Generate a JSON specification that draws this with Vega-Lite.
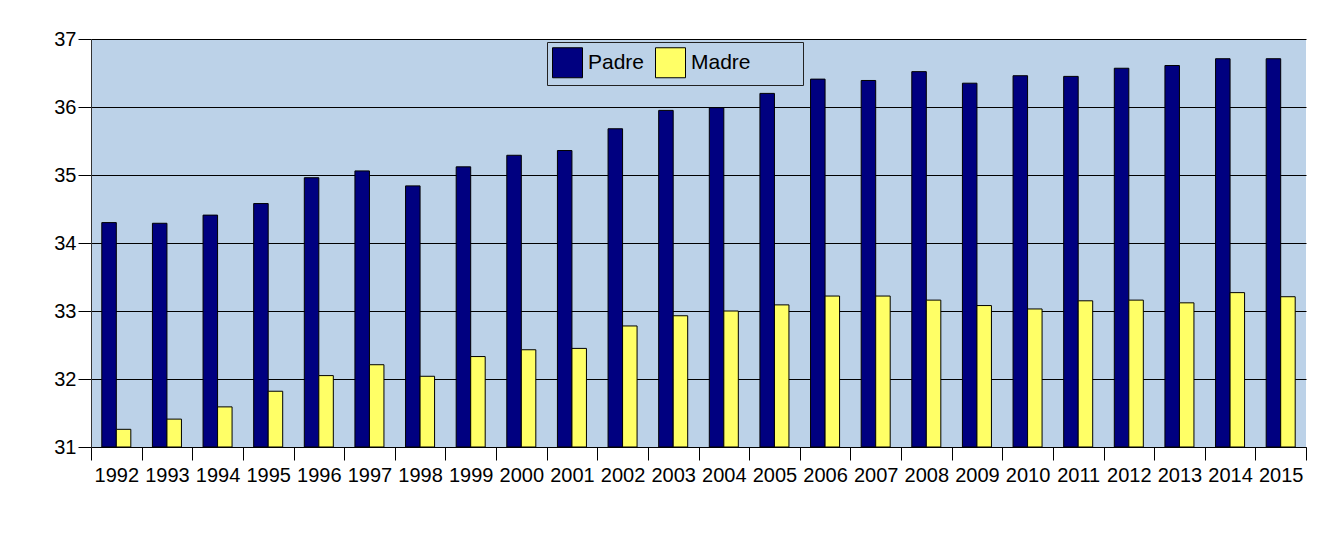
{
  "$schema": "https://vega.github.io/schema/vega-lite/v6.json",
  "autosize": {"type": "none"},
  "padding": {"left": 91, "top": 39, "right": 16, "bottom": 87},
  "width": 1215,
  "height": 408,
  "background": "white",
  "config": {
    "view": {"fill": "#bcd2e8", "stroke": null},
    "font": "Liberation Sans"
  },
  "data": {
    "values": [
      {"year": 1992, "serie": "Padre", "edad": 34.30},
      {"year": 1993, "serie": "Padre", "edad": 34.29},
      {"year": 1994, "serie": "Padre", "edad": 34.41},
      {"year": 1995, "serie": "Padre", "edad": 34.58},
      {"year": 1996, "serie": "Padre", "edad": 34.96},
      {"year": 1997, "serie": "Padre", "edad": 35.06},
      {"year": 1998, "serie": "Padre", "edad": 34.84},
      {"year": 1999, "serie": "Padre", "edad": 35.12},
      {"year": 2000, "serie": "Padre", "edad": 35.29},
      {"year": 2001, "serie": "Padre", "edad": 35.36},
      {"year": 2002, "serie": "Padre", "edad": 35.68},
      {"year": 2003, "serie": "Padre", "edad": 35.95},
      {"year": 2004, "serie": "Padre", "edad": 35.99},
      {"year": 2005, "serie": "Padre", "edad": 36.20},
      {"year": 2006, "serie": "Padre", "edad": 36.41},
      {"year": 2007, "serie": "Padre", "edad": 36.39},
      {"year": 2008, "serie": "Padre", "edad": 36.52},
      {"year": 2009, "serie": "Padre", "edad": 36.35},
      {"year": 2010, "serie": "Padre", "edad": 36.46},
      {"year": 2011, "serie": "Padre", "edad": 36.45},
      {"year": 2012, "serie": "Padre", "edad": 36.57},
      {"year": 2013, "serie": "Padre", "edad": 36.61},
      {"year": 2014, "serie": "Padre", "edad": 36.71},
      {"year": 2015, "serie": "Padre", "edad": 36.71},
      {"year": 1992, "serie": "Madre", "edad": 31.26},
      {"year": 1993, "serie": "Madre", "edad": 31.41},
      {"year": 1994, "serie": "Madre", "edad": 31.59},
      {"year": 1995, "serie": "Madre", "edad": 31.82},
      {"year": 1996, "serie": "Madre", "edad": 32.05},
      {"year": 1997, "serie": "Madre", "edad": 32.21},
      {"year": 1998, "serie": "Madre", "edad": 32.04},
      {"year": 1999, "serie": "Madre", "edad": 32.33},
      {"year": 2000, "serie": "Madre", "edad": 32.43},
      {"year": 2001, "serie": "Madre", "edad": 32.45},
      {"year": 2002, "serie": "Madre", "edad": 32.78},
      {"year": 2003, "serie": "Madre", "edad": 32.93},
      {"year": 2004, "serie": "Madre", "edad": 33.00},
      {"year": 2005, "serie": "Madre", "edad": 33.09},
      {"year": 2006, "serie": "Madre", "edad": 33.22},
      {"year": 2007, "serie": "Madre", "edad": 33.22},
      {"year": 2008, "serie": "Madre", "edad": 33.16},
      {"year": 2009, "serie": "Madre", "edad": 33.08},
      {"year": 2010, "serie": "Madre", "edad": 33.03},
      {"year": 2011, "serie": "Madre", "edad": 33.15},
      {"year": 2012, "serie": "Madre", "edad": 33.16},
      {"year": 2013, "serie": "Madre", "edad": 33.12},
      {"year": 2014, "serie": "Madre", "edad": 33.27},
      {"year": 2015, "serie": "Madre", "edad": 33.21}
    ]
  },
  "mark": {"type": "bar", "stroke": "black", "strokeWidth": 1},
  "encoding": {
    "x": {
      "field": "year",
      "type": "ordinal",
      "scale": {"paddingInner": 0, "paddingOuter": 0},
      "axis": {
        "title": null,
        "labelAngle": 0,
        "tickBand": "extent",
        "tickSize": 13,
        "tickColor": "black",
        "domainColor": "black",
        "labelFontSize": 20,
        "labelPadding": 5,
        "labelColor": "black",
        "grid": false
      }
    },
    "xOffset": {
      "field": "serie",
      "type": "nominal",
      "sort": ["Padre", "Madre"],
      "scale": {"paddingInner": 0, "paddingOuter": 0.745}
    },
    "y": {
      "field": "edad",
      "type": "quantitative",
      "scale": {"domain": [31, 37], "nice": false, "zero": false},
      "axis": {
        "title": null,
        "values": [31, 32, 33, 34, 35, 36, 37],
        "tickSize": 13,
        "tickColor": "black",
        "domainColor": "#333",
        "grid": true,
        "gridColor": "black",
        "gridOpacity": 1,
        "gridWidth": 1,
        "labelFontSize": 20,
        "labelPadding": 2,
        "labelColor": "black"
      }
    },
    "y2": {"datum": 31},
    "color": {
      "field": "serie",
      "type": "nominal",
      "sort": ["Padre", "Madre"],
      "scale": {"domain": ["Padre", "Madre"], "range": ["#000080", "#ffff66"]},
      "legend": {
        "title": "nnnn",
        "titleOpacity": 0,
        "titleOrient": "right",
        "titleFontSize": 17,
        "titlePadding": 5,
        "orient": "none",
        "legendX": 456,
        "legendY": 3,
        "direction": "horizontal",
        "symbolType": "square",
        "symbolSize": 900,
        "symbolStrokeColor": "black",
        "symbolStrokeWidth": 1,
        "symbolOpacity": 1,
        "labelFontSize": 21,
        "labelOffset": 5,
        "labelColor": "black",
        "columnPadding": 8,
        "padding": 5,
        "strokeColor": "#222",
        "fillColor": null
      }
    }
  }
}
